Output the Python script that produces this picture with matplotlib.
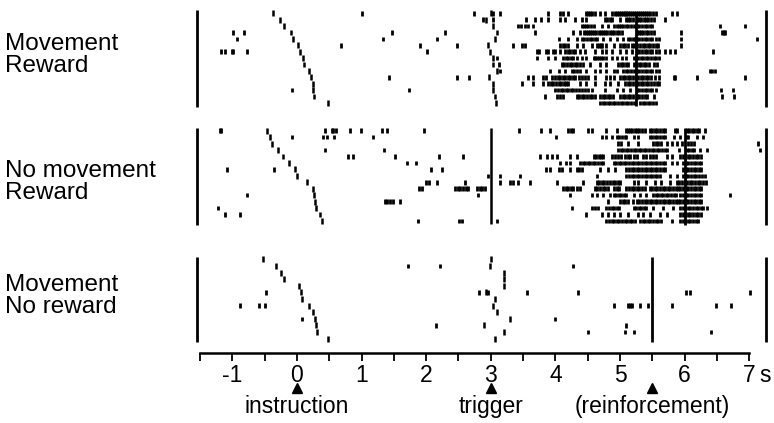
import numpy as np
import matplotlib.pyplot as plt

plt.rcParams["font.family"] = ["Liberation Sans", "DejaVu Sans"]
plt.rcParams["axes.unicode_minus"] = False

# times in s relative to the instruction, one list per trial (top to bottom)

# --- Movement / Reward ---
p1_instr = [-0.37, -0.26, -0.20, -0.10, -0.06, 0.01, 0.05, 0.10, 0.11, 0.19,
            0.21, 0.24, 0.25, 0.27, 0.48]
p1_trig = [3.01, 2.93, 3.04, 3.09, 3.06, 2.96, 2.99, 3.04, 3.04, 3.09,
           2.97, 3.03, 3.04, 3.06, 3.08]
p1_spikes = [
    [1.01, 2.74, 3.03, 3.14, 3.89, 4.07, 4.12, 4.20, 4.48, 4.51, 4.54, 4.57, 4.61,
     4.69, 4.77, 4.87, 4.92, 4.95, 4.98, 5.01, 5.04, 5.07, 5.10, 5.13, 5.16, 5.19,
     5.22, 5.28, 5.31, 5.34, 5.37, 5.40, 5.44, 5.47, 5.51, 5.55, 5.80, 5.88],
    [2.88, 3.04, 3.55, 3.68, 3.78, 3.89, 4.07, 4.15, 4.30, 4.41, 4.48, 4.77, 4.80,
     4.84, 4.87, 5.00, 5.10, 5.13, 5.16, 5.20, 5.26, 5.29, 5.33, 5.37, 5.40, 5.44,
     5.48, 5.52, 5.70],
    [3.42, 3.47, 3.53, 3.58, 3.66, 4.41, 4.44, 4.48, 4.51, 4.55, 4.59, 4.72, 4.82,
     4.90, 4.95, 4.98, 5.02, 5.05, 5.09, 5.13, 5.17, 5.21, 5.27, 5.30, 5.34, 5.38,
     5.42, 5.46, 5.49, 6.55, 6.94],
    [-0.99, -0.82, 1.47, 2.29, 3.68, 4.28, 4.38, 4.44, 4.47, 4.50, 4.53, 4.57, 4.60,
     4.63, 4.67, 4.70, 4.73, 4.77, 4.80, 4.84, 4.87, 4.91, 4.95, 4.99, 5.03, 5.26,
     5.29, 5.32, 5.36, 5.40, 5.44, 5.48, 5.52, 5.95, 6.58, 6.61, 6.63],
    [-0.93, 1.33, 2.17, 4.05, 4.20, 4.33, 4.41, 4.45, 4.49, 4.53, 4.57, 4.61, 4.64,
     4.74, 4.85, 4.95, 5.05, 5.13, 5.16, 5.20, 5.23, 5.27, 5.30, 5.34, 5.38, 5.42,
     5.46, 5.50, 5.55, 5.60, 5.95, 7.12],
    [0.68, 1.91, 2.48, 3.35, 3.49, 3.53, 4.07, 4.11, 4.15, 4.20, 4.33, 4.43, 4.56,
     4.64, 4.67, 4.70, 4.72, 4.79, 4.90, 5.00, 5.04, 5.08, 5.13, 5.18, 5.21, 5.24,
     5.27, 5.31, 5.35, 5.39, 5.43, 5.47, 5.51, 5.55, 5.59, 5.95],
    [-1.17, -1.11, -1.01, -0.99, -0.78, 2.02, 3.71, 3.74, 3.85, 3.89, 3.97, 3.99,
     4.07, 4.15, 4.19, 4.23, 4.27, 4.30, 4.38, 4.46, 4.61, 4.72, 4.79, 4.87, 5.00,
     5.10, 5.18, 5.26, 5.30, 5.34, 5.38, 5.42, 5.46, 5.50, 5.55, 5.60, 5.70, 5.77,
     5.85, 6.44],
    [3.09, 3.71, 3.89, 3.99, 4.12, 4.16, 4.20, 4.24, 4.28, 4.33, 4.41, 4.48, 4.59,
     4.62, 4.65, 4.68, 4.71, 4.74, 4.79, 4.87, 4.95, 5.03, 5.10, 5.21, 5.24, 5.28,
     5.32, 5.36, 5.40, 5.44, 5.48, 5.52, 5.56, 5.60],
    [3.12, 4.10, 4.14, 4.18, 4.22, 4.26, 4.30, 4.34, 4.38, 4.43, 4.54, 4.69, 4.79,
     4.97, 5.01, 5.05, 5.09, 5.13, 5.21, 5.25, 5.29, 5.33, 5.37, 5.41, 5.45, 5.52,
     5.57],
    [3.14, 3.92, 4.05, 4.15, 4.25, 4.29, 4.33, 4.38, 4.48, 4.61, 4.69, 4.79, 4.90,
     4.95, 5.05, 5.09, 5.13, 5.17, 5.21, 5.26, 5.30, 5.34, 5.38, 5.42, 5.46, 5.50,
     5.55, 5.60, 6.39, 6.43, 6.47],
    [1.42, 2.47, 2.66, 3.58, 3.66, 3.81, 3.85, 3.94, 3.99, 4.04, 4.07, 4.11, 4.15,
     4.19, 4.23, 4.27, 4.31, 4.36, 4.41, 4.46, 4.51, 4.61, 4.79, 4.85, 4.90, 5.00,
     5.04, 5.08, 5.12, 5.16, 5.20, 5.24, 5.28, 5.32, 5.36, 5.40, 5.44, 5.48, 5.54,
     5.60, 5.83, 5.85, 6.19, 6.94],
    [3.48, 3.66, 3.81, 3.89, 3.93, 3.97, 4.01, 4.05, 4.09, 4.13, 4.17, 4.20, 4.38,
     4.48, 4.61, 4.77, 4.85, 4.97, 5.08, 5.12, 5.16, 5.20, 5.24, 5.28, 5.32, 5.36,
     5.40, 5.44, 5.48, 5.52, 5.57, 5.61],
    [-0.08, 1.73, 4.00, 4.04, 4.08, 4.12, 4.16, 4.20, 4.24, 4.28, 4.32, 4.36, 4.41,
     4.46, 4.51, 4.56, 4.77, 4.95, 5.05, 5.15, 5.26, 5.30, 5.34, 5.38, 5.42, 5.46,
     5.50, 5.55, 6.57, 6.75],
    [3.84, 4.02, 4.07, 4.12, 4.33, 4.37, 4.41, 4.45, 4.49, 4.53, 4.57, 4.61, 4.69,
     4.73, 4.77, 4.81, 4.85, 4.89, 5.00, 5.04, 5.08, 5.12, 5.16, 5.20, 5.26, 5.30,
     5.34, 5.38, 5.42, 5.52, 6.58, 6.76],
    [4.69, 4.73, 4.77, 4.81, 4.85, 4.89, 4.93, 4.97, 5.01, 5.05, 5.09, 5.13, 5.17,
     5.21, 5.31, 5.35, 5.39, 5.43, 5.47, 5.51, 5.55],
]

# --- No movement / Reward ---
p2_instr = [-0.46, -0.42, -0.38, -0.29, -0.22, -0.12, -0.03, 0.00, 0.15, 0.24,
            0.26, 0.28, 0.30, 0.35, 0.38]
p2_spikes = [
    [-1.19, -1.17, 0.43, 0.54, 0.56, 0.60, 0.82, 0.99, 1.31, 1.39, 1.96, 3.44, 3.77,
     3.92, 4.20, 4.24, 4.28, 4.51, 4.56, 4.79, 4.95, 5.10, 5.13, 5.16, 5.19, 5.23,
     5.26, 5.30, 5.34, 5.38, 5.46, 5.50, 5.54, 5.58, 5.62, 5.66, 5.70, 5.85, 5.88,
     6.03, 6.07, 6.11, 6.15, 6.19, 6.23, 6.32],
    [-0.07, 0.41, 0.46, 0.57, 1.17, 4.01, 4.72, 4.79, 4.88, 4.95, 4.99, 5.03, 5.07,
     5.10, 5.21, 5.28, 5.46, 5.50, 5.54, 5.58, 5.62, 5.66, 5.70, 5.83, 5.93, 6.03,
     6.06, 6.19, 6.29],
    [4.97, 5.02, 5.13, 5.28, 5.51, 5.55, 5.59, 5.64, 5.72, 5.80, 5.88, 5.96, 6.06,
     6.10, 6.14, 7.13],
    [0.43, 1.35, 4.97, 5.01, 5.05, 5.09, 5.13, 5.17, 5.21, 5.25, 5.29, 5.33, 5.37,
     5.41, 5.45, 5.49, 5.53, 5.57, 5.61, 5.65, 5.69, 5.72, 5.91, 6.03, 6.07, 6.11,
     6.15, 6.24, 6.34, 7.17],
    [0.79, 0.86, 1.51, 2.20, 2.57, 3.76, 3.87, 3.94, 4.02, 4.23, 4.33, 4.59, 4.63,
     4.67, 4.71, 4.74, 4.87, 4.92, 4.97, 5.02, 5.07, 5.12, 5.16, 5.21, 5.26, 5.36,
     5.41, 5.46, 5.51, 5.56, 5.72, 5.80, 5.93, 5.97, 6.01, 6.05, 6.09, 6.13, 6.17,
     6.21, 6.25],
    [1.70, 1.84, 4.07, 4.17, 4.23, 4.38, 4.42, 4.46, 4.50, 4.54, 4.58, 4.62, 4.66,
     4.70, 4.74, 4.90, 4.94, 4.98, 5.02, 5.06, 5.10, 5.14, 5.18, 5.22, 5.26, 5.30,
     5.34, 5.38, 5.42, 5.46, 5.50, 5.54, 5.58, 5.62, 5.66, 5.70, 5.80, 5.88, 5.98,
     6.02, 6.06, 6.10, 6.14, 6.18, 6.22, 6.26],
    [-1.08, -0.35, 2.07, 2.25, 3.86, 3.92, 4.05, 4.10, 4.23, 4.33, 4.36, 4.41, 4.69,
     4.82, 4.92, 5.10, 5.14, 5.18, 5.22, 5.26, 5.30, 5.34, 5.38, 5.42, 5.46, 5.50,
     5.54, 5.58, 5.62, 5.66, 5.70, 5.98, 6.02, 6.06, 6.10, 6.14, 6.18, 6.22, 6.26],
    [2.96, 3.14, 3.45, 4.64, 5.10, 5.14, 5.18, 5.22, 5.26, 5.30, 5.34, 5.38, 5.42,
     5.46, 5.50, 5.54, 5.58, 5.62, 5.77, 5.88, 5.98, 6.02, 6.06, 6.10, 6.14, 6.18,
     6.22, 6.27, 6.32],
    [2.00, 2.05, 2.16, 2.60, 3.14, 3.29, 3.35, 3.42, 3.61, 4.02, 4.43, 4.64, 4.68,
     4.72, 4.76, 4.80, 4.85, 4.89, 4.93, 4.97, 5.00, 5.21, 5.28, 5.41, 5.54, 5.64,
     5.77, 5.88, 5.92, 5.96, 6.00, 6.04, 6.08, 6.12, 6.16, 6.20, 6.24, 6.28, 6.33],
    [1.89, 1.94, 2.45, 2.49, 2.53, 2.57, 2.61, 2.65, 2.78, 2.83, 2.87, 2.91, 4.12,
     4.16, 4.20, 4.24, 4.28, 4.33, 4.38, 4.61, 4.65, 4.69, 4.73, 4.77, 4.82, 4.90,
     4.95, 4.99, 5.10, 5.14, 5.18, 5.22, 5.26, 5.30, 5.34, 5.38, 5.46, 5.50, 5.54,
     5.58, 5.62, 5.66, 5.70, 5.74, 5.78, 5.82, 5.86, 5.90, 5.93, 5.98, 6.02, 6.06,
     6.10, 6.14, 6.18, 6.22, 6.26],
    [-0.77, 2.80, 4.23, 4.56, 4.64, 4.74, 4.85, 4.90, 4.94, 4.98, 5.02, 5.06, 5.10,
     5.21, 5.31, 5.41, 5.51, 5.55, 5.59, 5.63, 5.67, 5.71, 5.75, 5.79, 5.83, 5.87,
     5.93, 5.98, 6.02, 6.06, 6.10, 6.14, 6.18, 6.22, 6.26, 6.71],
    [1.36, 1.40, 1.44, 1.49, 1.60, 4.82, 5.00, 5.04, 5.08, 5.12, 5.20, 5.26, 5.30,
     5.34, 5.38, 5.42, 5.46, 5.50, 5.54, 5.58, 5.62, 5.66, 5.70, 5.74, 5.78, 5.82,
     5.86, 5.90, 5.93, 5.98, 6.02, 6.06, 6.10, 6.14, 6.18, 6.22, 6.26],
    [-1.22, 4.25, 4.56, 4.61, 4.66, 4.79, 4.83, 4.87, 4.91, 4.95, 4.99, 5.21, 5.25,
     5.29, 5.33, 5.37, 5.41, 5.51, 5.67, 5.82, 5.93, 5.97, 6.01, 6.05, 6.09, 6.13,
     6.17, 6.21, 6.25, 6.29, 6.35],
    [-1.12, -0.89, 4.48, 4.72, 4.82, 4.90, 5.00, 5.13, 5.28, 5.36, 5.46, 5.62, 5.72,
     5.93, 5.97, 6.01, 6.05, 6.09, 6.13, 6.17, 6.21, 6.25],
    [1.87, 2.51, 2.55, 3.09, 4.79, 4.83, 4.87, 4.91, 4.95, 4.99, 5.03, 5.07, 5.11,
     5.15, 5.19, 5.23, 5.31, 5.35, 5.39, 5.43, 5.47, 5.51, 5.55, 5.59, 5.63, 5.80,
     5.93, 5.97, 6.01, 6.05, 6.09, 6.13, 6.17, 6.21],
]

# --- Movement / No reward ---
p3_instr = [-0.52, -0.33, -0.25, -0.20, 0.03, 0.06, 0.08, 0.19, 0.24, 0.28,
            0.30, 0.31, 0.48]
p3_trig = [3.00, 2.98, 3.21, 3.21, 3.20, 2.93, 3.07, 3.03, 3.10, 3.29,
           2.89, 3.21, 3.06]
p3_spikes = [
    [],
    [1.72, 2.21, 4.28],
    [],
    [],
    [],
    [-0.48, 2.81, 2.95, 3.56, 4.35, 6.02, 6.08, 7.02],
    [],
    [-0.88, -0.59, -0.49, 4.90, 5.13, 5.16, 5.18, 5.31, 5.43, 5.81, 6.49, 6.72],
    [],
    [0.07, 3.99],
    [2.15, 5.09],
    [4.50, 5.08, 5.22, 6.41],
    [],
]

# event lines
p1_reward = 5.25
p2_trigger = 3.0
p2_reward = 6.0
p3_reward = 5.5

row_labels = [("Movement", "Reward"), ("No movement", "Reward"), ("Movement", "No reward")]
marker_times = [0, 3, 5.5]
marker_names = ["instruction", "trigger", "(reinforcement)"]

# ---- layout (pixels of a 774x423 image) ----
W, H = 774, 423
X0, PXS = 297, 64.6          # pixel of t=0, pixels per second
AXIS_Y = 353
fig = plt.figure(figsize=(W / 100, H / 100), dpi=100)
ax = fig.add_axes([0, (H - AXIS_Y) / H, 1, AXIS_Y / H])
ax.set_xlim(-X0 / PXS, (W - X0) / PXS)
ax.set_ylim(AXIS_Y, 0)

panels = [
    dict(top=13.3, step=6.4, frame=(10, 107), instr=p1_instr, trig=p1_trig, spikes=p1_spikes),
    dict(top=130.7, step=6.45, frame=(128, 225), instr=p2_instr, trig=None, spikes=p2_spikes),
    dict(top=259.4, step=6.6, frame=(257, 342), instr=p3_instr, trig=p3_trig, spikes=p3_spikes),
]

for p in panels:
    n = len(p["spikes"])
    ys = p["top"] + p["step"] * np.arange(n)
    ax.eventplot(p["spikes"], lineoffsets=ys, linelengths=4.5, linewidths=2.0, colors="k")
    ax.eventplot([[t] for t in p["instr"]], lineoffsets=ys, linelengths=p["step"] - 0.6,
                 linewidths=1.8, colors="k")
    if p["trig"] is not None:
        ax.eventplot([[t] for t in p["trig"]], lineoffsets=ys, linelengths=p["step"] - 0.6,
                     linewidths=1.8, colors="k")
    ax.vlines([-1.55, 7.26], p["frame"][0], p["frame"][1], colors="k", lw=2.0)

ax.vlines(p1_reward, 11, 106, colors="k", lw=2.0)
ax.vlines(p2_trigger, 128, 224, colors="k", lw=1.8)
ax.vlines(p2_reward, 128, 225, colors="k", lw=2.0)
ax.vlines(p3_reward, 257, 342, colors="k", lw=2.0)

# time axis
for s in ["top", "left", "right"]:
    ax.spines[s].set_visible(False)
ax.spines["bottom"].set_bounds(-1.5, 7)
ax.spines["bottom"].set_linewidth(1.8)
ax.set_xticks(range(-1, 8))
ax.set_xticks(np.arange(-1.5, 7.01, 0.5), minor=True)
ax.tick_params(axis="x", which="both", direction="out", length=6, width=1.3, pad=2,
               labelsize=16.5)
ax.set_yticks([])
ax.text((759 - X0) / PXS, 382, "s", fontsize=16.5, va="baseline", ha="left")

ax.plot(marker_times, [388] * 3, "k^", ms=7, clip_on=False)
for t, name in zip(marker_times, marker_names):
    ax.text(t, 413, name, fontsize=16.5, ha="center", va="baseline")

baselines = [(50, 72), (177, 199), (291, 313)]
for (l1, l2), (b1, b2) in zip(row_labels, baselines):
    ax.text((5 - X0) / PXS, b1, l1, fontsize=17.5, va="baseline")
    ax.text((5 - X0) / PXS, b2, l2, fontsize=17.5, va="baseline")

fig.savefig("out.png", dpi=100)
